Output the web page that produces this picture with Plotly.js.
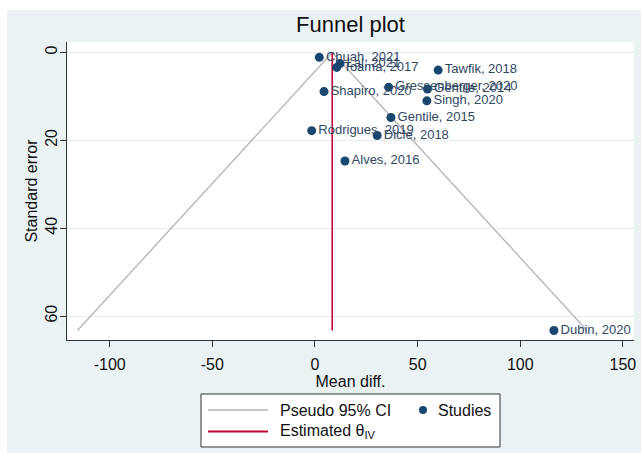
<!DOCTYPE html>
<html>
<head>
<meta charset="utf-8">
<script src="https://cdn.plot.ly/plotly-3.0.1.min.js"></script>
<style>html,body{margin:0;padding:0;background:#fff;}#chart{width:641px;height:453px;}</style>
</head>
<body>
<div id="chart"></div>
<script>
// ---- Data ----
var studies = ["Chuah, 2021", "Lal, 2021", "Toama, 2017", "Tawfik, 2018", "Shapiro, 2020",
  "Gressenberger, 2020", "Gentile, 2014", "Singh, 2020", "Gentile, 2015", "Rodrigues, 2019",
  "Dicle, 2018", "Alves, 2016", "Dubin, 2020"];
var meanDiff = [2.1, 12.2, 10.6, 60.0, 4.4, 35.9, 54.8, 54.5, 37.0, -1.6, 30.3, 14.6, 116.4];
var stdErr   = [1.1, 2.5, 3.4, 4.0, 8.9, 7.9, 8.3, 11.0, 14.8, 17.8, 18.9, 24.7, 63.3];
var thetaX = [8.4, 8.4];
var thetaY = [0, 63.3];
var ciLeftX = [8.4, -115.7];
var ciRightX = [8.4, 132.5];
var ciY = [0, 63.3];
var xTicks = [-100, -50, 0, 50, 100, 150];
var yTicks = [0, 20, 40, 60];

// ---- Layout geometry ----
var W = 641, H = 453;
var M = {l: 67, r: 7, t: 42, b: 113};
var PW = W - M.l - M.r, PH = H - M.t - M.b;
function px(x) { return (x - M.l) / PW; }
function py(y) { return (H - M.b - y) / PH; }

var FONT = "Liberation Sans, Arial, sans-serif";
var navy = "#1a476f";
var gray = "#b4b4b4";
var red = "#c10534";

var traces = [
  {x: ciLeftX, y: ciY, mode: "lines", line: {color: gray, width: 1.3}, hoverinfo: "skip"},
  {x: ciRightX, y: ciY, mode: "lines", line: {color: gray, width: 1.3}, hoverinfo: "skip"},
  {x: thetaX, y: thetaY, mode: "lines", line: {color: red, width: 1.6}, hoverinfo: "skip"},
  {x: meanDiff, y: stdErr, mode: "markers+text", text: studies, textposition: "middle right",
   marker: {color: navy, size: 9}, textfont: {family: FONT, size: 13, color: "#2e4763"},
   cliponaxis: false}
];

var shapes = [
  // white strips at top and left (outside Stata background)
  {type: "rect", xref: "paper", yref: "paper", x0: px(0), x1: px(W), y0: py(10), y1: py(0),
   fillcolor: "#ffffff", line: {width: 0}, layer: "below"},
  {type: "rect", xref: "paper", yref: "paper", x0: px(0), x1: px(7), y0: py(H), y1: py(0),
   fillcolor: "#ffffff", line: {width: 0}, layer: "below"},
  // legend box
  {type: "rect", xref: "paper", yref: "paper", x0: px(201), x1: px(500), y0: py(447), y1: py(394),
   fillcolor: "#ffffff", line: {color: "#333333", width: 1}},
  {type: "line", xref: "paper", yref: "paper", x0: px(208), x1: px(268), y0: py(410), y1: py(410),
   line: {color: gray, width: 1.5}},
  {type: "line", xref: "paper", yref: "paper", x0: px(208), x1: px(268), y0: py(431.5), y1: py(431.5),
   line: {color: red, width: 2}},
  {type: "circle", xref: "paper", yref: "paper", x0: px(419), x1: px(427), y0: py(414), y1: py(406),
   fillcolor: navy, line: {color: navy, width: 0}}
];

var annotations = [
  {text: "Pseudo 95% CI", xref: "paper", yref: "paper", x: px(278), y: py(410), xanchor: "left",
   yanchor: "middle", showarrow: false, font: {family: FONT, size: 16, color: "#111"}},
  {text: "Studies", xref: "paper", yref: "paper", x: px(436), y: py(410), xanchor: "left",
   yanchor: "middle", showarrow: false, font: {family: FONT, size: 16, color: "#111"}},
  {text: "Estimated θ<sub>IV</sub>", xref: "paper", yref: "paper", x: px(278), y: py(431.5), xanchor: "left",
   yanchor: "middle", showarrow: false, font: {family: FONT, size: 16, color: "#111"}}
];

var layout = {
  width: W, height: H,
  margin: M,
  paper_bgcolor: "#eaf2f3",
  plot_bgcolor: "#ffffff",
  showlegend: false,
  font: {family: FONT, size: 16, color: "#111"},
  title: {text: "Funnel plot", font: {family: FONT, size: 22, color: "#111"},
          x: 0.5, xref: "paper", xanchor: "center", y: 1 - 24 / H, yref: "container", yanchor: "middle"},
  xaxis: {
    range: [-120.8, 155.4], tickvals: xTicks, ticktext: xTicks.map(String),
    ticks: "outside", ticklen: 6, tickcolor: "#333", showline: true, linecolor: "#333", linewidth: 1,
    showgrid: false, zeroline: false, tickfont: {family: FONT, size: 16, color: "#111"},
    ticklabelstandoff: 4,
    title: {text: "Mean diff.", font: {family: FONT, size: 16, color: "#111"}, standoff: 0}
  },
  yaxis: {
    range: [65.46, -2.39], tickvals: yTicks, ticktext: yTicks.map(String), tickangle: -90,
    ticks: "outside", ticklen: 6, tickcolor: "#333", showline: true, linecolor: "#333", linewidth: 1,
    showgrid: true, gridcolor: "#e6eef0", gridwidth: 1, zeroline: false,
    tickfont: {family: FONT, size: 16, color: "#111"},
    ticklabelstandoff: -3,
    title: {text: "Standard error", font: {family: FONT, size: 16, color: "#111"}, standoff: 0}
  },
  shapes: shapes,
  annotations: annotations
};

Plotly.newPlot("chart", traces, layout, {displayModeBar: false, staticPlot: true});
</script>
</body>
</html>
